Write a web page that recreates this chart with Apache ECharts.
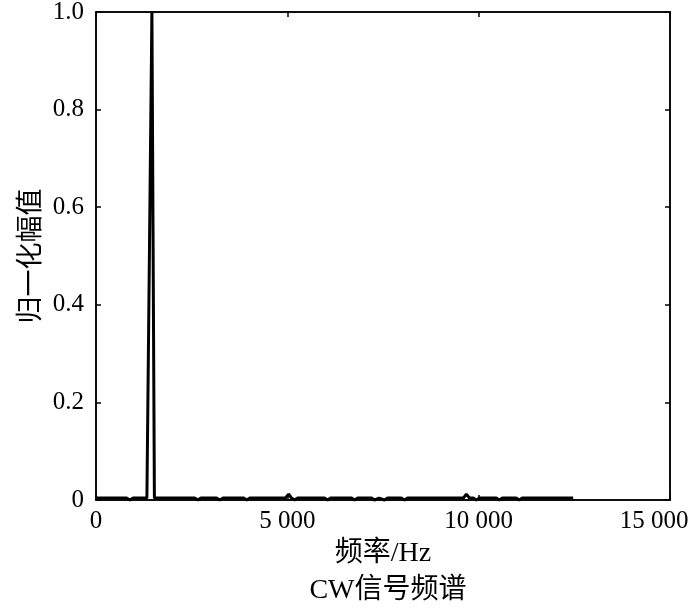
<!DOCTYPE html>
<html>
<head>
<meta charset="utf-8">
<script src="https://cdn.jsdelivr.net/npm/echarts@6/dist/echarts.min.js"></script>
<style>
  html, body { margin: 0; padding: 0; background: #fff; }
  #chart { width: 700px; height: 610px; }
</style>
</head>
<body>
<div id="chart"></div>
<script>
// 频率 (Hz) 与归一化幅值
var freqHz = [0, 800, 887, 970, 1330, 1345, 1461, 1526, 1540, 2580, 2661, 2740,
  3150, 3235, 3320, 3860, 3939, 4020, 4950, 5035, 5110, 5191, 5270, 5970, 6052,
  6130, 6680, 6757, 6840, 7200, 7278, 7400, 7539, 7620, 7980, 8061, 8140, 9600,
  9678, 9760, 9860, 9939, 10020, 10460, 10539, 10620, 10980, 11061, 11140, 12470];
var amplitude = [0.004, 0.004, 0.0, 0.004, 0.004, 0.004, 1.0, 0.004, 0.004, 0.004, 0.0, 0.004,
  0.004, 0.0, 0.004, 0.004, 0.0, 0.004, 0.004, 0.012, 0.004, 0.0, 0.004, 0.004, 0.0,
  0.004, 0.004, 0.0, 0.004, 0.004, 0.0, 0.004, 0.0, 0.004, 0.004, 0.0, 0.004, 0.004,
  0.012, 0.004, 0.004, 0.0, 0.004, 0.004, 0.0, 0.004, 0.004, 0.0, 0.004, 0.004];
var xTicks = [0, 5000, 10000, 15000];
var yTicks = [0, 0.2, 0.4, 0.6, 0.8, 1.0];

var seriesData = freqHz.map(function (f, i) { return [f, amplitude[i]]; });

var myChart = echarts.init(document.getElementById("chart"));
var serif = "'Liberation Serif', 'Times New Roman', 'Noto Sans CJK SC', serif";
var lineStyle = { color: "#000", width: 1.5 };

var option = {
  animation: false,
  backgroundColor: "#fff",
  title: {
    text: "CW信号频谱",
    left: 383,
    top: 572,
    textAlign: "center",
    textStyle: { fontFamily: serif, fontSize: 28, fontWeight: "normal", color: "#000" }
  },
  grid: {
    left: 96, right: 30, top: 12, bottom: 110,
    outerBoundsMode: "none",
    show: true, borderColor: "#000", borderWidth: 1.5, backgroundColor: "transparent"
  },
  xAxis: [
    {
      type: "value",
      min: 0,
      max: 15000,
      interval: 5000,
      name: "频率/Hz",
      nameLocation: "middle",
      nameGap: 40,
      nameTextStyle: { fontFamily: serif, fontSize: 28, color: "#000" },
      axisLine: { show: true, onZero: false, lineStyle: lineStyle },
      axisTick: { show: true, inside: true, length: 5, lineStyle: lineStyle },
      splitLine: { show: false },
      axisLabel: {
        fontFamily: serif, fontSize: 25, color: "#000", margin: 9,
        formatter: function (v) {
          if (xTicks.indexOf(v) < 0) return "";
          var s = String(v).replace(/\B(?=(\d{3})+$)/g, " ");
          return v === 15000 ? "{last|" + s + "}" : s;
        },
        rich: {
          last: { fontFamily: serif, fontSize: 25, color: "#000", padding: [0, 32, 0, 0] }
        }
      }
    },
    {
      type: "value",
      position: "top",
      min: 0,
      max: 15000,
      interval: 5000,
      axisLine: { show: true, onZero: false, lineStyle: lineStyle },
      axisTick: { show: true, inside: true, length: 5, lineStyle: lineStyle },
      axisLabel: { show: false },
      splitLine: { show: false }
    }
  ],
  yAxis: [
    {
      type: "value",
      min: 0,
      max: 1,
      interval: 0.2,
      name: "归一化幅值",
      nameLocation: "middle",
      nameGap: 46,
      nameTextStyle: { fontFamily: "'Noto Sans CJK SC', sans-serif", fontSize: 27, color: "#000" },
      axisLine: { show: true, onZero: false, lineStyle: lineStyle },
      axisTick: { show: true, inside: true, length: 5, lineStyle: lineStyle },
      splitLine: { show: false },
      axisLabel: {
        fontFamily: serif, fontSize: 25, color: "#000", margin: 12,
        formatter: function (v) { return v === 0 ? "0" : v.toFixed(1); }
      }
    },
    {
      type: "value",
      position: "right",
      min: 0,
      max: 1,
      interval: 0.2,
      axisLine: { show: true, onZero: false, lineStyle: lineStyle },
      axisTick: { show: true, inside: true, length: 5, lineStyle: lineStyle },
      axisLabel: { show: false },
      splitLine: { show: false }
    }
  ],
  series: [
    {
      type: "line",
      data: seriesData,
      showSymbol: false,
      symbol: "none",
      clip: false,
      lineStyle: { color: "#000", width: 3 }
    },
    {
      type: "line",
      xAxisIndex: 1,
      yAxisIndex: 1,
      data: [[0, 0]],
      symbol: "none",
      silent: true,
      lineStyle: { opacity: 0 }
    }
  ]
};
myChart.setOption(option);
</script>
</body>
</html>
